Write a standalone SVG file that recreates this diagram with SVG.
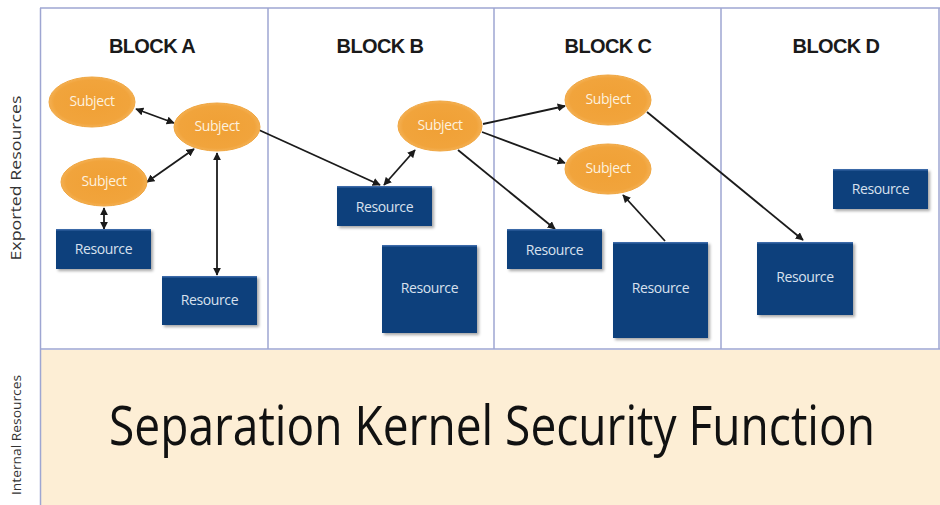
<svg xmlns="http://www.w3.org/2000/svg" width="940" height="505" viewBox="0 0 940 505">
<defs>
<style>
.frame{fill:none;stroke:#9ea6d2;stroke-width:1.5}
.title{font-family:"Liberation Sans",Arial,sans-serif;font-weight:bold;font-size:20px;fill:#1a1a1a;text-anchor:middle;letter-spacing:-0.6px}
.subj ellipse{fill:url(#og);stroke:#f0a640;stroke-width:1}
.subj text,.res text{font-family:"Open Sans","Liberation Sans",sans-serif;font-size:14px;text-anchor:middle;letter-spacing:-0.4px}
.subj text{fill:#fdf1df}
.res rect{fill:#0f3f7b;filter:url(#sh)}
.res text{fill:#d8e0ee}
.res line{stroke:#3b69a8;stroke-width:1.5}
.side{font-family:"Open Sans","Liberation Sans",sans-serif;fill:#333;text-anchor:middle}
.conn line{stroke:#1b1b1b;stroke-width:1.8}
</style>
<radialGradient id="og" cx="50%" cy="50%" r="55%">
<stop offset="0" stop-color="#f0a035"/>
<stop offset="0.8" stop-color="#f1a43c"/>
<stop offset="1" stop-color="#f6b964"/>
</radialGradient>
<filter id="sh" x="-10%" y="-10%" width="130%" height="140%">
<feDropShadow dx="2" dy="2" stdDeviation="1.5" flood-color="#000" flood-opacity="0.35"/>
</filter>
<marker id="ah" viewBox="0 0 10 10" refX="9" refY="5" markerWidth="4.5" markerHeight="4.5" orient="auto-start-reverse">
<path d="M0,0 L10,5 L0,10 z" fill="#1b1b1b"/>
</marker>
</defs>
<rect width="940" height="505" fill="#fff"/>
<rect x="41" y="350" width="899" height="155" fill="#fdeed5"/>
<g id="frame">
<line class="frame" x1="40.5" y1="8" x2="40.5" y2="505"/>
<line class="frame" x1="40" y1="8" x2="940" y2="8"/>
<line class="frame" x1="40" y1="349" x2="940" y2="349"/>
<line class="frame" x1="268" y1="8" x2="268" y2="349"/>
<line class="frame" x1="494" y1="8" x2="494" y2="349"/>
<line class="frame" x1="721" y1="8" x2="721" y2="349"/>
<line class="frame" x1="939" y1="8" x2="939" y2="349"/>
</g>
<text class="side" transform="translate(21,178) rotate(-90)" font-size="14.5" textLength="165" lengthAdjust="spacingAndGlyphs">Exported Resources</text>
<text class="side" transform="translate(21,435) rotate(-90)" font-size="12.5" textLength="120" lengthAdjust="spacingAndGlyphs">Internal Resources</text>
<text class="title" x="152" y="53">BLOCK A</text>
<text class="title" x="380" y="53">BLOCK B</text>
<text class="title" x="608" y="53">BLOCK C</text>
<text class="title" x="836" y="53">BLOCK D</text>
<g id="kernel" transform="translate(492,445) scale(0.82,1)">
<text x="0" y="0" font-family="'Open Sans','Liberation Sans',sans-serif" font-size="54" fill="#111" text-anchor="middle" textLength="934" lengthAdjust="spacingAndGlyphs">Separation Kernel Security Function</text>
</g>
<g class="conn" id="connectors">
<line x1="136" y1="109" x2="174" y2="123" marker-start="url(#ah)" marker-end="url(#ah)"/>
<line x1="147" y1="182" x2="194" y2="149" marker-start="url(#ah)" marker-end="url(#ah)"/>
<line x1="104" y1="208" x2="104" y2="229" marker-start="url(#ah)" marker-end="url(#ah)"/>
<line x1="217" y1="153" x2="217" y2="275" marker-start="url(#ah)" marker-end="url(#ah)"/>
<line x1="259" y1="130" x2="380" y2="185" marker-end="url(#ah)"/>
<line x1="384" y1="185" x2="415" y2="150" marker-start="url(#ah)" marker-end="url(#ah)"/>
<line x1="483" y1="124" x2="565" y2="106" marker-end="url(#ah)"/>
<line x1="482" y1="132" x2="565" y2="163" marker-end="url(#ah)"/>
<line x1="458" y1="150" x2="555" y2="229" marker-end="url(#ah)"/>
<line x1="665" y1="241" x2="623" y2="195" marker-end="url(#ah)"/>
<line x1="647" y1="112" x2="803" y2="240" marker-end="url(#ah)"/>
</g>
<g id="subjA1" class="subj"><ellipse cx="92" cy="102" rx="43" ry="25"/><text x="92" y="106">Subject</text></g>
<g id="subjA2" class="subj"><ellipse cx="217" cy="127" rx="43" ry="24"/><text x="217" y="131">Subject</text></g>
<g id="subjA3" class="subj"><ellipse cx="104" cy="182" rx="43" ry="24"/><text x="104" y="186">Subject</text></g>
<g id="subjB" class="subj"><ellipse cx="440" cy="126" rx="42" ry="25"/><text x="440" y="130">Subject</text></g>
<g id="subjC1" class="subj"><ellipse cx="608" cy="100" rx="43" ry="25"/><text x="608" y="104">Subject</text></g>
<g id="subjC2" class="subj"><ellipse cx="608" cy="169" rx="43" ry="25"/><text x="608" y="173">Subject</text></g>
<g id="resA1" class="res"><rect x="56" y="229" width="95" height="40"/><line x1="56" y1="229.7" x2="151" y2="229.7"/><text x="103.5" y="254">Resource</text></g>
<g id="resA2" class="res"><rect x="162" y="276" width="95" height="49"/><line x1="162" y1="276.7" x2="257" y2="276.7"/><text x="209.5" y="305">Resource</text></g>
<g id="resB1" class="res"><rect x="337" y="186" width="95" height="40"/><line x1="337" y1="186.7" x2="432" y2="186.7"/><text x="384.5" y="212">Resource</text></g>
<g id="resB2" class="res"><rect x="382" y="245" width="95" height="88"/><line x1="382" y1="245.7" x2="477" y2="245.7"/><text x="429.5" y="293">Resource</text></g>
<g id="resC1" class="res"><rect x="507" y="229" width="95" height="40"/><line x1="507" y1="229.7" x2="602" y2="229.7"/><text x="554.5" y="255">Resource</text></g>
<g id="resC2" class="res"><rect x="613" y="242" width="95" height="96"/><line x1="613" y1="242.7" x2="708" y2="242.7"/><text x="660.5" y="293">Resource</text></g>
<g id="resD1" class="res"><rect x="833" y="169" width="95" height="40"/><line x1="833" y1="169.7" x2="928" y2="169.7"/><text x="880.5" y="194">Resource</text></g>
<g id="resD2" class="res"><rect x="757" y="242" width="96" height="73"/><line x1="757" y1="242.7" x2="853" y2="242.7"/><text x="805" y="282">Resource</text></g>
</svg>
